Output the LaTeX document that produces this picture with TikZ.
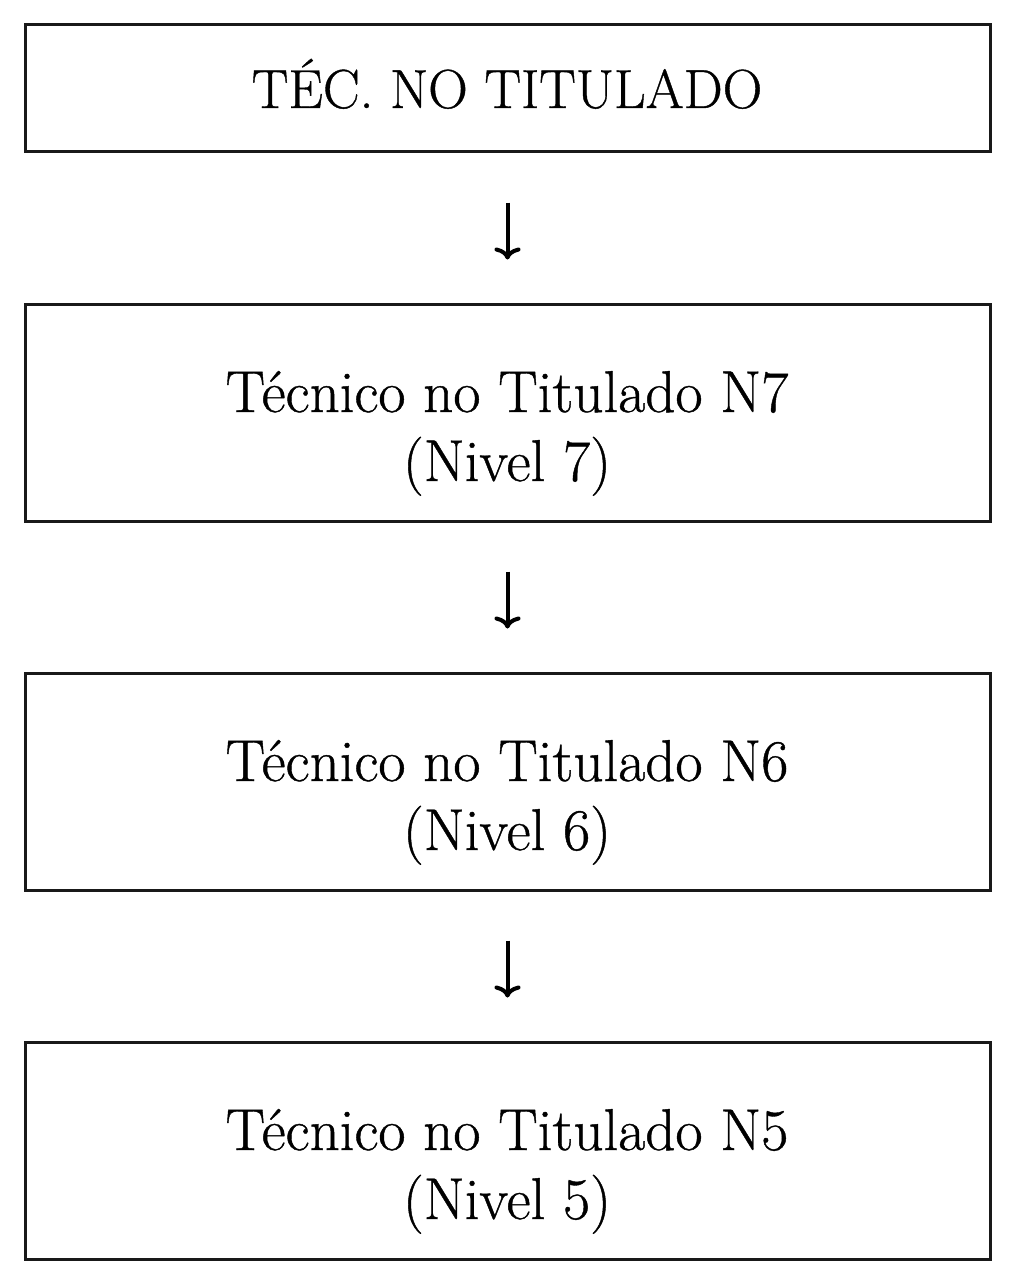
\documentclass[tikz,border=0pt]{standalone}
\usepackage{fontspec}
\newfontfamily\heavyrm{Latin Modern Roman}[FakeBold=0.7]
\usetikzlibrary{arrows.meta}
\tikzset{
  box/.style={draw=black!90, line width=3pt, minimum width=965pt, inner sep=0pt},
  lbl/.style={anchor=base, inner sep=0pt, font=\heavyrm\fontsize{59}{68}\selectfont},
  hdr/.style={anchor=base, inner sep=0pt, font=\heavyrm\fontsize{55}{68}\selectfont},
  flow/.style={line width=4pt, -{Computer Modern Rightarrow[width=26pt,length=12pt]}, shorten <=49pt, shorten >=43pt}
}
\begin{document}
\begin{tikzpicture}[x=1pt,y=-1pt]
\useasboundingbox (0,0) rectangle (1015,1284);
\node[box, minimum height=127pt] (b1) at (507.5,88.5) {};
\node[box, minimum height=217pt] (b2) at (507.5,412.5) {};
\node[box, minimum height=217pt] (b3) at (507.5,781.5) {};
\node[box, minimum height=217pt] (b4) at (507.5,1150.5) {};
\node[hdr] (t1) at (507,108) {TÉC. NO TITULADO};
\node[lbl] (t2a) at (507,412) {Técnico no Titulado N7};
\node[lbl] (t2b) at (507,481) {(Nivel 7)};
\node[lbl] (t3a) at (507,781) {Técnico no Titulado N6};
\node[lbl] (t3b) at (507,850) {(Nivel 6)};
\node[lbl] (t4a) at (507,1150) {Técnico no Titulado N5};
\node[lbl] (t4b) at (507,1219) {(Nivel 5)};
\draw[flow] (b1.south) -- (b2.north);
\draw[flow] (b2.south) -- (b3.north);
\draw[flow] (b3.south) -- (b4.north);
\end{tikzpicture}
\end{document}
